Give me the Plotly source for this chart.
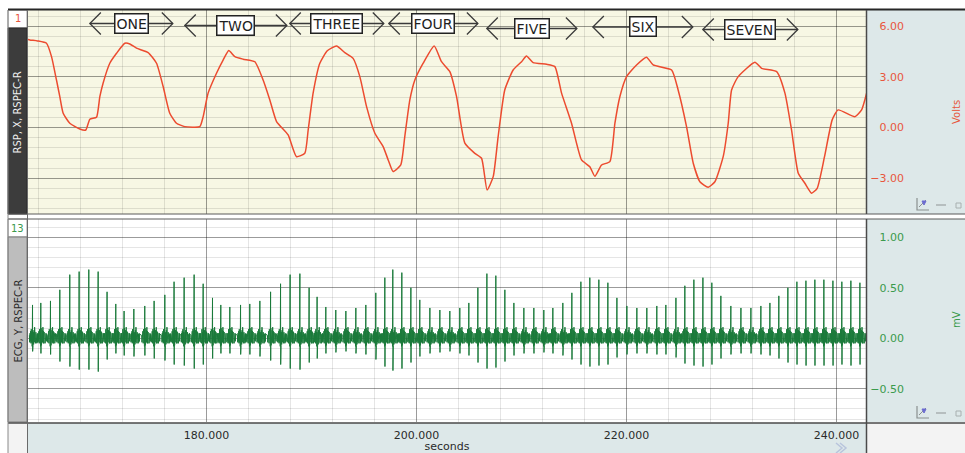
import plotly.graph_objects as go

W, H = 965, 453

# ---------------- data ----------------
rsp_t = [163.0, 163.17, 163.9, 164.76, 165.24, 165.71, 166.03, 166.35, 166.98, 167.93,
         168.5, 168.89, 169.52, 169.84, 170.15, 170.79, 171.43, 172.22, 172.7, 173.33,
         174.44, 175.24, 175.87, 176.5, 177.14, 177.93, 179.36, 179.68, 180.15, 180.95,
         181.58, 182.12, 182.7, 183.49, 184.6, 185.39, 186.03, 186.67, 187.77, 188.57,
         189.36, 189.68, 190.15, 190.79, 191.5, 192.38, 193.17, 193.96, 194.6, 195.24,
         196.03, 196.82, 197.3, 197.77, 198.5, 198.88, 199.36, 199.84, 200.63, 201.68,
         202.38, 203.17, 203.81, 204.6, 205.55, 206.19, 206.72, 207.3, 207.77, 208.4,
         209.2, 210.0, 210.47, 211.1, 212.38, 213.17, 213.81, 214.76, 215.71, 216.5,
         216.98, 217.62, 218.41, 218.89, 219.36, 220.0, 220.95, 221.9, 222.53, 224.29,
         224.91, 225.71, 226.35, 226.98, 227.77, 228.41, 229.2, 229.68, 230.0, 230.63,
         232.22, 232.86, 234.29, 235.08, 235.71, 236.35, 236.98, 237.62, 238.15, 238.85,
         239.58, 240.15, 241.74, 242.38, 242.86]
rsp_v = [5.22, 5.19, 5.13, 4.99, 4.20, 2.82, 1.83, 0.85, 0.26, -0.08,
         -0.14, 0.50, 0.61, 1.83, 2.63, 3.81, 4.40, 4.99, 4.95, 4.70,
         4.44, 3.81, 2.43, 0.85, 0.26, 0.06, 0.06, 0.65, 2.04, 3.22,
         4.00, 4.56, 4.20, 4.05, 3.90, 2.82, 1.64, 0.36, -0.43, -1.72,
         -1.52, -0.14, 2.04, 3.81, 4.55, 4.83, 4.44, 4.10, 3.02, 1.24,
         -0.33, -1.12, -1.91, -2.60, -2.20, -0.53, 1.64, 2.82, 3.81, 4.83,
         3.90, 3.31, 1.83, -0.92, -1.52, -1.81, -3.69, -2.90, -0.53, 2.23,
         3.41, 3.90, 4.24, 3.85, 3.75, 3.61, 2.04, 0.26, -1.91, -2.31,
         -2.88, -2.21, -2.01, 0.26, 1.83, 3.02, 3.71, 4.17, 3.71, 3.41,
         2.23, 0.06, -2.11, -3.20, -3.53, -3.20, -1.72, 0.26, 2.23, 3.02,
         3.87, 3.51, 3.31, 2.04, -0.14, -2.70, -3.29, -3.88, -3.59, -1.72,
         0.46, 1.05, 0.65, 1.05, 2.04]

beat_t = [163.43, 164.22, 165.14, 166.03, 166.98, 167.87, 168.79, 169.68, 170.53, 171.36,
          172.15, 173.08, 174.12, 175.01, 176.03, 176.91, 177.87, 178.82, 179.68, 180.57,
          181.36, 182.22, 183.24, 184.12, 185.08, 186.10, 187.05, 187.96, 188.89, 189.77,
          190.53, 191.36, 192.31, 193.27, 194.22, 195.17, 196.12, 196.98, 197.74, 198.60,
          199.46, 200.31, 201.27, 202.22, 203.17, 204.12, 204.98, 205.84, 206.70, 207.55,
          208.41, 209.27, 210.22, 211.17, 212.12, 212.98, 213.93, 214.79, 215.65, 216.50,
          217.36, 218.22, 219.08, 220.03, 220.98, 221.93, 222.88, 223.74, 224.70, 225.55,
          226.41, 227.27, 228.12, 228.98, 229.93, 230.89, 231.84, 232.79, 233.65, 234.50,
          235.36, 236.22, 237.08, 237.93, 238.79, 239.65, 240.50, 241.36, 242.22]
beat_r = [0.33, 0.35, 0.37, 0.48, 0.63, 0.66, 0.68, 0.66, 0.46, 0.34,
          0.27, 0.29, 0.32, 0.37, 0.43, 0.56, 0.60, 0.63, 0.54, 0.40,
          0.33, 0.31, 0.33, 0.34, 0.37, 0.46, 0.54, 0.63, 0.64, 0.50,
          0.41, 0.31, 0.28, 0.27, 0.30, 0.33, 0.45, 0.60, 0.68, 0.65,
          0.50, 0.38, 0.30, 0.28, 0.27, 0.30, 0.35, 0.50, 0.64, 0.62,
          0.48, 0.35, 0.30, 0.30, 0.28, 0.30, 0.35, 0.45, 0.56, 0.60,
          0.58, 0.55, 0.40, 0.32, 0.30, 0.30, 0.32, 0.33, 0.40, 0.52,
          0.58, 0.60, 0.55, 0.42, 0.32, 0.30, 0.30, 0.32, 0.35, 0.42,
          0.50, 0.56, 0.57, 0.58, 0.58, 0.57, 0.56, 0.57, 0.55]
beat_s = [-0.13, -0.15, -0.16, -0.23, -0.28, -0.31, -0.31, -0.33, -0.21, -0.15,
          -0.17, -0.18, -0.17, -0.20, -0.22, -0.26, -0.27, -0.30, -0.26, -0.20,
          -0.15, -0.15, -0.16, -0.16, -0.18, -0.22, -0.26, -0.30, -0.31, -0.24,
          -0.20, -0.15, -0.14, -0.13, -0.15, -0.16, -0.21, -0.28, -0.32, -0.30,
          -0.24, -0.18, -0.15, -0.14, -0.13, -0.15, -0.17, -0.24, -0.30, -0.29,
          -0.23, -0.17, -0.15, -0.15, -0.14, -0.15, -0.17, -0.21, -0.26, -0.28,
          -0.27, -0.26, -0.19, -0.16, -0.15, -0.15, -0.16, -0.16, -0.19, -0.25,
          -0.27, -0.28, -0.26, -0.20, -0.16, -0.15, -0.15, -0.16, -0.17, -0.20,
          -0.24, -0.26, -0.27, -0.27, -0.27, -0.27, -0.26, -0.27, -0.26]

event_labels = ["ONE", "TWO", "THREE", "FOUR", "FIVE", "SIX", "SEVEN"]
event_start = [168.89, 177.93, 187.93, 197.36, 206.69, 216.79, 227.26]
event_end = [176.79, 187.65, 196.88, 205.84, 215.27, 226.31, 236.31]

time_ticks = [180, 200, 220, 240]
rsp_ticks = [-3, 0, 3, 6]
ecg_ticks = [-0.5, 0, 0.5, 1.0]

# ---------------- styles ----------------
X_RANGE = [163.0, 242.8]
RSP_RANGE = [-5.11, 6.96]
ECG_RANGE = [-0.829, 1.181]
EVENT_Y_PX = [23.5, 25.5, 23.5, 23.5, 28.5, 27.0, 29.5]
RED = "#ec4b2f"
RED_TXT = "#e8573d"
GREEN = "#1a7a3a"
GREEN_TXT = "#3a9a4c"
PANEL = "#dde8e9"
FONT = "DejaVu Sans"
# shape of one ECG complex around its R peak (offset s, mV) - baseline wiggle
ECG_PRE = [(-0.30, 0.03), (-0.27, -0.04), (-0.24, 0.05), (-0.21, -0.03), (-0.18, 0.07),
           (-0.15, -0.05), (-0.12, 0.09), (-0.09, -0.04), (-0.06, 0.06), (-0.03, -0.08)]
ECG_POST = [(0.03, 0.10), (0.05, -0.07), (0.08, 0.06), (0.11, -0.06), (0.14, 0.08),
            (0.17, -0.04), (0.20, 0.11), (0.23, -0.05), (0.26, 0.07), (0.29, -0.05),
            (0.32, 0.06), (0.35, -0.04), (0.38, 0.05), (0.41, -0.05), (0.44, 0.04),
            (0.47, -0.04), (0.50, 0.05), (0.53, -0.03), (0.56, 0.04)]


def px(x):
    return x / W


def py(y):
    return 1 - y / H


ecg_x, ecg_y = [], []
for t, r, s in zip(beat_t, beat_r, beat_s):
    for dt, dv in ECG_PRE:
        ecg_x.append(t + dt); ecg_y.append(dv)
    ecg_x += [t, t + 0.012]
    ecg_y += [r, s]
    for dt, dv in ECG_POST:
        ecg_x.append(t + dt); ecg_y.append(dv)

fig = go.Figure()
fig.add_trace(go.Scatter(x=rsp_t, y=rsp_v, mode="lines", xaxis="x", yaxis="y",
                         line=dict(color=RED, width=1.5, shape="spline", smoothing=0.5),
                         hoverinfo="skip", showlegend=False))
fig.add_trace(go.Scatter(x=ecg_x, y=ecg_y, mode="lines", xaxis="x2", yaxis="y2",
                         line=dict(color=GREEN, width=1), hoverinfo="skip", showlegend=False))

xdom = [px(28), px(866)]
grid_major = "rgba(0,0,0,0.32)"
grid_minor = "rgba(0,0,0,0.10)"

common_x = dict(domain=xdom, range=X_RANGE, tickmode="array", tickvals=time_ticks,
                showgrid=True, gridcolor=grid_major, gridwidth=1, zeroline=False,
                showline=False,
                minor=dict(tickmode="linear", tick0=180, dtick=4, showgrid=True,
                           gridcolor=grid_minor, gridwidth=1))

fig.update_layout(
    width=W, height=H, margin=dict(l=0, r=0, t=0, b=0),
    paper_bgcolor="white", plot_bgcolor="rgba(0,0,0,0)",
    font=dict(family=FONT),
    xaxis=dict(anchor="y", showticklabels=False, **common_x),
    xaxis2=dict(anchor="y2", matches="x", showticklabels=True, tickformat=".3f",
                ticks="outside", ticklen=3, tickcolor="rgba(0,0,0,0)",
                tickfont=dict(family=FONT, size=11, color="#2a2a2a"),
                title=dict(text="seconds", standoff=0,
                           font=dict(family=FONT, size=11, color="#2a2a2a")),
                **common_x),
    yaxis=dict(domain=[py(214), py(10)], range=RSP_RANGE, anchor="free", position=px(904),
               side="left", tickmode="array", tickvals=rsp_ticks, tickformat=".2f",
               ticks="", showline=False, zeroline=False,
               tickfont=dict(family=FONT, size=11, color=RED_TXT),
               showgrid=True, gridcolor=grid_major,
               minor=dict(tickmode="linear", tick0=0, dtick=0.6, showgrid=True,
                          gridcolor=grid_minor)),
    yaxis2=dict(domain=[py(422), py(219)], range=ECG_RANGE, anchor="free", position=px(904),
                side="left", tickmode="array", tickvals=ecg_ticks, tickformat=".2f",
                ticks="", showline=False, zeroline=False,
                tickfont=dict(family=FONT, size=11, color=GREEN_TXT),
                showgrid=True, gridcolor=grid_major,
                minor=dict(tickmode="linear", tick0=0, dtick=0.1, showgrid=True,
                           gridcolor=grid_minor)),
)

shapes = []


def rect(x0, y0, x1, y1, fill, line_color=None, lw=1, layer="below"):
    shapes.append(dict(type="rect", xref="paper", yref="paper",
                       x0=px(x0), x1=px(x1), y0=py(y1), y1=py(y0),
                       fillcolor=fill, layer=layer,
                       line=dict(color=line_color or "rgba(0,0,0,0)", width=lw if line_color else 0)))


def hline(x0, x1, y, color, w=1):
    shapes.append(dict(type="line", xref="paper", yref="paper", x0=px(x0), x1=px(x1),
                       y0=py(y), y1=py(y), line=dict(color=color, width=w), layer="above"))


def vline(x, y0, y1, color, w=1):
    shapes.append(dict(type="line", xref="paper", yref="paper", x0=px(x), x1=px(x),
                       y0=py(y0), y1=py(y1), line=dict(color=color, width=w), layer="above"))


def ppath(d, color, w=1, fill=None):
    s = dict(type="path", xref="paper", yref="paper", path=d, layer="above",
             line=dict(color=color, width=w))
    if fill:
        s["fillcolor"] = fill
    shapes.append(s)


# backgrounds
rect(28, 10, 866, 214, "#f7f7e4")
rect(28, 219, 866, 422, "#ffffff")
rect(866, 10, 965, 214, PANEL)
rect(866, 219, 965, 422, PANEL)
rect(28, 423, 866, 453, PANEL)
rect(866, 423, 965, 453, "#f3f3f3")
rect(8, 423, 27, 453, "#f3f3f3")
# left channel strips
rect(8, 10, 27, 28, "#ffffff", "#9a9a9a", 1, "above")
rect(8, 28, 27, 214, "#3c3c3c", "#2a2a2a", 1, "above")
rect(8, 219, 27, 237, "#ffffff", "#9a9a9a", 1, "above")
rect(8, 237, 27, 422, "#bdbdbd", "#7a7a7a", 1, "above")
# borders
hline(8, 965, 9.5, "#262626", 2)
hline(8, 965, 214, "#5a5a5a", 1)
hline(8, 965, 219, "#5a5a5a", 1)
hline(8, 965, 423, "#4a4a4a", 1.5)
vline(866.5, 10, 214, "#4a4a4a", 1.5)
vline(866.5, 219, 453, "#4a4a4a", 1.5)
vline(27.5, 10, 453, "#6a6a6a", 1)
vline(8, 10, 453, "#8a8a8a", 1)

# small panel icons (axis / link / lock)
for base in (210, 418):
    ppath(f"M {px(917)} {py(base - 12)} L {px(917)} {py(base)} L {px(929)} {py(base)}", "#8a9090", 1.2)
    ppath(f"M {px(919)} {py(base - 3)} L {px(926)} {py(base - 10)}", "#8a9090", 1)
    ppath(f"M {px(922)} {py(base - 9)} L {px(926)} {py(base - 9)} L {px(924)} {py(base - 5)} Z",
          "#6b6bd0", 1, "#6b6bd0")
    ppath(f"M {px(936)} {py(base - 5)} L {px(946)} {py(base - 5)}", "#a8b0b0", 1.5)
    ppath(f"M {px(956)} {py(base - 2)} L {px(956)} {py(base - 7)} L {px(961)} {py(base - 7)} L {px(961)} {py(base - 2)} Z",
          "#a8b0b0", 1)
ppath(f"M {px(836)} {py(443)} L {px(842)} {py(448)} L {px(836)} {py(453)}", "#b8c4dc", 1.5)
ppath(f"M {px(840)} {py(443)} L {px(846)} {py(448)} L {px(840)} {py(453)}", "#b8c4dc", 1.5)

# event markers
CHEV_W = 11 / 10.5  # seconds
CHEV_H = 11 / H
for lab, t0, t1, ypx in zip(event_labels, event_start, event_end, EVENT_Y_PX):
    yc = py(ypx)
    shapes.append(dict(type="line", xref="x", yref="paper", x0=t0, x1=t1, y0=yc, y1=yc,
                       line=dict(color="#3a3a3a", width=1.3), layer="above"))
    shapes.append(dict(type="path", xref="x", yref="paper",
                       path=f"M {t0 + CHEV_W} {yc + CHEV_H} L {t0} {yc} L {t0 + CHEV_W} {yc - CHEV_H}",
                       line=dict(color="#3a3a3a", width=1.3), layer="above"))
    shapes.append(dict(type="path", xref="x", yref="paper",
                       path=f"M {t1 - CHEV_W} {yc + CHEV_H} L {t1} {yc} L {t1 - CHEV_W} {yc - CHEV_H}",
                       line=dict(color="#3a3a3a", width=1.3), layer="above"))

annotations = []
for lab, t0, t1, ypx in zip(event_labels, event_start, event_end, EVENT_Y_PX):
    annotations.append(dict(x=(t0 + t1) / 2, y=py(ypx), xref="x", yref="paper",
                            xanchor="center", yanchor="middle",
                            text=lab, showarrow=False, bgcolor="white",
                            bordercolor="#222222", borderwidth=1.5, borderpad=1,
                            font=dict(family=FONT, size=14, color="#1e1e1e")))


def label(x, y, text, size, color, angle=0):
    annotations.append(dict(x=px(x), y=py(y), xref="paper", yref="paper", text=text,
                            xanchor="center", yanchor="middle",
                            showarrow=False, textangle=angle,
                            font=dict(family=FONT, size=size, color=color)))


label(17.5, 19, "1", 10, RED_TXT)
label(17.5, 113, "RSP, X, RSPEC-R", 10, "#f0f0f0", -90)
label(17.5, 228, "13", 10, GREEN_TXT)
label(17.5, 321, "ECG, Y, RSPEC-R", 10, "#2a2a2a", -90)
label(956, 112, "Volts", 10, RED_TXT, -90)
label(956, 320, "mV", 10, GREEN_TXT, -90)

fig.update_layout(shapes=shapes, annotations=annotations)
fig.write_html("out.html", config={"displayModeBar": False},
               post_script="document.body.style.margin='0';")
